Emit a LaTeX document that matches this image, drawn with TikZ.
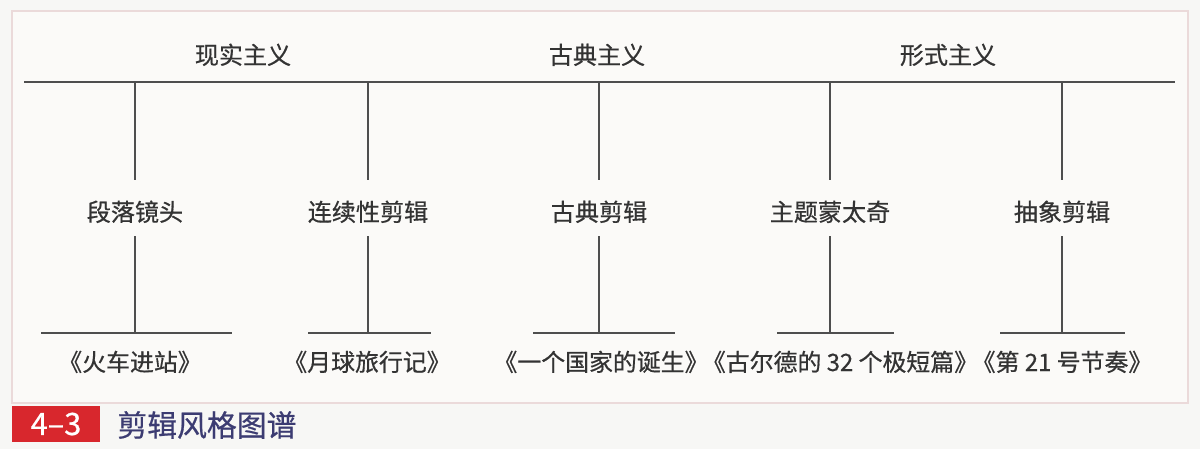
\documentclass[tikz,border=0pt]{standalone}
\usepackage{fontspec}
\setmainfont{Noto Sans CJK SC}[FakeBold=0.6]
\definecolor{paper}{HTML}{F7F7F5}
\definecolor{boxbg}{HTML}{FBFAF8}
\definecolor{boxline}{HTML}{EBDADA}
\definecolor{ink}{HTML}{333333}
\definecolor{rule}{HTML}{4E4E4E}
\definecolor{capred}{HTML}{D8272D}
\definecolor{capblue}{HTML}{3C3C72}
\begin{document}
\begin{tikzpicture}[x=0.02cm, y=-0.02cm,
    school/.style={anchor=base, text=ink, font=\fontsize{13.7}{16}\selectfont, inner sep=0pt},
    style/.style={anchor=base, text=ink, font=\fontsize{13.7}{16}\selectfont, inner sep=0pt,
      text height=0.82cm, text depth=0.30cm},
    film/.style={anchor=base, text=ink, font=\fontsize{13.6}{16}\selectfont, inner sep=0pt},
    bar/.style={rule, line width=1.1pt}]
  \useasboundingbox[fill=paper] (0,0) rectangle (1200,449);
  \draw[boxline, fill=boxbg, line width=0.8pt] (12,11) rectangle (1188,403);

  	\node[school] (real) at (243, 64) {现实主义};
  	\node[school] (class) at (597, 64) {古典主义};
  	\node[school] (form) at (948, 64) {形式主义};

  	\coordinate (barL) at (24, 82);
  	\coordinate (barR) at (1175, 82);
  	\draw[bar] (barL)-- (barR);

  	\node[style] (seq) at (135, 221) {段落镜头};
  	\node[style] (cont) at (368, 221) {连续性剪辑};
  	\node[style] (clas) at (599, 221) {古典剪辑};
  	\node[style] (theme) at (830, 221) {主题蒙太奇};
  	\node[style] (abst) at (1062, 221) {抽象剪辑};

  \draw[bar] (seq.north |- barL)-- (seq.north);
  \draw[bar] (cont.north |- barL)-- (cont.north);
  \draw[bar] (clas.north |- barL)-- (clas.north);
  \draw[bar] (theme.north |- barL)-- (theme.north);
  \draw[bar] (abst.north |- barL)-- (abst.north);

  	\coordinate (seqL) at (41, 333);   \coordinate (seqR) at (232, 333);
  	\coordinate (contL) at (308, 333); \coordinate (contR) at (431, 333);
  	\coordinate (clasL) at (533, 333); \coordinate (clasR) at (675, 333);
  	\coordinate (themeL) at (777, 333); \coordinate (themeR) at (894, 333);
  	\coordinate (abstL) at (1000, 333); \coordinate (abstR) at (1125, 333);

  \draw[bar] (seq.south)-- (seq.south |- seqL);
  \draw[bar] (cont.south)-- (cont.south |- contL);
  \draw[bar] (clas.south)-- (clas.south |- clasL);
  \draw[bar] (theme.south)-- (theme.south |- themeL);
  \draw[bar] (abst.south)-- (abst.south |- abstL);
  \draw[bar] (seqL)-- (seqR);
  \draw[bar] (contL)-- (contR);
  \draw[bar] (clasL)-- (clasR);
  \draw[bar] (themeL)-- (themeR);
  \draw[bar] (abstL)-- (abstR);

  	\node[film] (train) at (130, 371) {《火车进站》};
  	\node[film] (moon) at (367, 371) {《月球旅行记》};
  	\node[film] (birth) at (601, 371) {《一个国家的诞生》};
  	\node[film] (gould) at (840, 371) {《古尔德的 32 个极短篇》};
  	\node[film] (rhythm) at (1062, 371) {《第 21 号节奏》};

  % caption
  \node[fill=capred, text=white, minimum width=1.76cm, minimum height=0.72cm, inner sep=0pt,
    font=\fontsize{17.5}{19}\selectfont] (num) at (56, 424) {4–3};
  \node[anchor=west, text=capblue, inner sep=0pt, font=\fontsize{17}{19}\selectfont] (cap) at (117, 425) {剪辑风格图谱};
\end{tikzpicture}
\end{document}
